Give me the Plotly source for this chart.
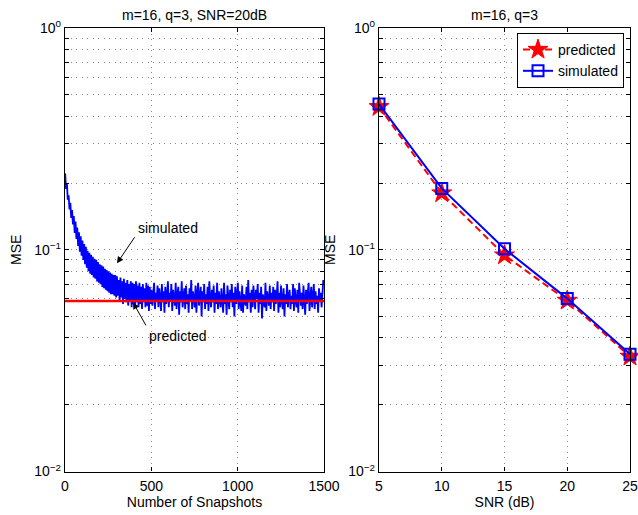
import math
import plotly.graph_objects as go

# ---------------- data ----------------
# Left panel: MSE vs number of snapshots (sampled every 5 snapshots), values in 1e-3
snap_step = 5
sim_milli = [
    221,188,200,168,176,152,163,139,151,130,142,119,134,112,126,104,120,98,115,94,
    110,90,106,86,103,83,99,80,97,78,95,77,93,75,91,74,90,72,88,71,
    86,70,85,68,84,67,82,66,81,65,80,64,79,63,78,63,77,62,77,61,
    76,62,73,59,75,61,72,57,74,60,71,58,73,56,70,59,72,55,71,57,
    70,56,72,58,69,55,71,57,68,54,70,58,67,55,71,56,69,53,68,57,
    66,56,63,71,54,64,59,69,55,67,61,53,70,58,65,52,68,57,62,72,
    55,64,59,70,53,66,61,56,71,54,63,68,51,65,58,72,55,62,67,54,
    69,57,63,52,67,59,73,54,65,60,55,69,52,63,71,56,61,68,50,65,
    58,70,54,63,57,68,53,72,60,55,66,58,69,52,64,57,71,54,65,60,
    55,67,59,52,71,57,63,51,69,60,54,66,58,70,55,64,50,68,57,62,
    71,54,65,58,53,69,52,63,60,56,68,54,73,58,64,52,66,55,69,59,
    54,66,60,70,52,64,57,68,49,63,59,55,71,53,65,60,56,69,54,64,
    58,68,53,66,57,62,72,52,64,55,69,59,54,67,50,63,57,70,55,62,
    66,54,62,57,70,53,67,59,55,66,52,71,60,56,64,54,69,58,51,66,
    57,64,71,53,62,68,55,60,70,54,65,57,62,52,67,59,64,55,69,73,
]
snapshots = [1 + i * snap_step for i in range(len(sim_milli))]
mse_sim_snap = [v / 1000 for v in sim_milli]
pred_snap_x = [0, 1500]
pred_snap_y = [0.0588, 0.0588]

# Right panel: MSE vs SNR
snr_db = [5, 10, 15, 20, 25]
mse_pred = [0.441, 0.180, 0.0945, 0.059, 0.033]
mse_simu = [0.454, 0.189, 0.101, 0.0602, 0.0338]

# tick labels
left_xticks = [0, 500, 1000, 1500]
right_xticks = [5, 10, 15, 20, 25]
decades = [0.01, 0.1, 1]
decade_labels = ["10<sup>−2</sup>", "10<sup>−1</sup>", "10<sup>0</sup>"]

# annotation anchors (data coordinates)
sim_arrow_tip = (301, 0.0869)
pred_arrow_tip = (394, 0.0579)
sim_label_pos = (597, 0.125)
pred_label_pos = (654, 0.0407)

# ---------------- styling ----------------
FONT = "Liberation Sans, Arial, Helvetica, sans-serif"
FS = 14
W, H = 638, 515

ytickvals = []
yticktext = []
for d in [0.01, 0.1]:
    for k in range(1, 10):
        ytickvals.append(d * k)
        yticktext.append(decade_labels[decades.index(d)] if k == 1 else "")
ytickvals.append(1)
yticktext.append(decade_labels[2])

fig = go.Figure()

fig.add_trace(go.Scatter(x=snapshots, y=mse_sim_snap, mode="lines",
                         line=dict(color="#0000ff", width=1.8), showlegend=False,
                         xaxis="x", yaxis="y"))
fig.add_trace(go.Scatter(x=pred_snap_x, y=pred_snap_y, mode="lines",
                         line=dict(color="#ff0000", width=2.5), showlegend=False,
                         xaxis="x", yaxis="y"))

fig.add_trace(go.Scatter(x=snr_db, y=mse_pred, mode="lines+markers", name="predicted",
                         line=dict(color="#ff0000", width=2, dash="7px,4px"),
                         marker=dict(symbol="star", size=15, color="#ff0000",
                                     line=dict(color="#ff0000", width=1)),
                         xaxis="x2", yaxis="y2", cliponaxis=False))
fig.add_trace(go.Scatter(x=snr_db, y=mse_simu, mode="lines+markers", name="simulated",
                         line=dict(color="#0000ff", width=2),
                         marker=dict(symbol="square-open", size=11, color="#0000ff",
                                     line=dict(color="#0000ff", width=2)),
                         xaxis="x2", yaxis="y2", cliponaxis=False))

ydom = [43.5 / H, 487 / H]
common_axis = dict(showline=True, linecolor="black", linewidth=1.3, mirror="ticks",
                   ticks="inside", ticklen=4, tickcolor="black", automargin=False,
                   showgrid=True, gridcolor="#888888", griddash="1px,4.5px", gridwidth=1,
                   zeroline=False, tickfont=dict(family=FONT, size=FS, color="black"))

yaxis_common = dict(common_axis, type="log", range=[-2, 0], tickvals=ytickvals,
                    ticktext=yticktext, domain=ydom)

fig.update_layout(
    width=W, height=H,
    margin=dict(l=0, r=0, t=0, b=0),
    paper_bgcolor="white", plot_bgcolor="white",
    font=dict(family=FONT, size=FS, color="black"),
    xaxis=dict(common_axis, domain=[65 / W, 324 / W], range=[0, 1500],
               tickvals=left_xticks, anchor="y", ticklabelstandoff=2,
               title=dict(text="Number of Snapshots", standoff=1,
                          font=dict(family=FONT, size=FS))),
    yaxis=dict(yaxis_common, anchor="x",
               title=dict(text="MSE", standoff=9, font=dict(family=FONT, size=FS))),
    xaxis2=dict(common_axis, domain=[379 / W, 630 / W], range=[5, 25],
                tickvals=right_xticks, anchor="y2", ticklabelstandoff=2,
                title=dict(text="SNR (dB)", standoff=1, font=dict(family=FONT, size=FS))),
    yaxis2=dict(yaxis_common, anchor="x2",
                title=dict(text="MSE", standoff=9, font=dict(family=FONT, size=FS))),
    legend=dict(x=624 / W, y=(H - 33) / H, xanchor="right", yanchor="top",
                bgcolor="white", bordercolor="black", borderwidth=1,
                font=dict(family=FONT, size=FS, color="black"),
                tracegroupgap=0, itemwidth=30),
    showlegend=True,
)

annotations = [
    dict(text="m=16, q=3, SNR=20dB", x=(65 + 324) / 2 / W, y=(H - 15) / H,
         xref="paper", yref="paper", xanchor="center", yanchor="middle",
         showarrow=False, font=dict(family=FONT, size=FS)),
    dict(text="m=16, q=3", x=(379 + 630) / 2 / W, y=(H - 15) / H,
         xref="paper", yref="paper", xanchor="center", yanchor="middle",
         showarrow=False, font=dict(family=FONT, size=FS)),
    # arrows (log axis: annotation y given as log10)
    dict(text=" ", x=sim_arrow_tip[0], y=math.log10(sim_arrow_tip[1]), xref="x", yref="y",
         showarrow=True, ax=19, ay=-28, arrowhead=2, arrowsize=1.3, arrowwidth=1,
         arrowcolor="black", font=dict(size=1)),
    dict(text=" ", x=pred_arrow_tip[0], y=math.log10(pred_arrow_tip[1]), xref="x", yref="y",
         showarrow=True, ax=14, ay=25, arrowhead=2, arrowsize=1.3, arrowwidth=1,
         arrowcolor="black", font=dict(size=1)),
    dict(text="simulated", x=sim_label_pos[0], y=math.log10(sim_label_pos[1]),
         xref="x", yref="y", showarrow=False, xanchor="center", yanchor="middle",
         font=dict(family=FONT, size=FS)),
    dict(text="predicted", x=pred_label_pos[0], y=math.log10(pred_label_pos[1]),
         xref="x", yref="y", showarrow=False, xanchor="center", yanchor="middle",
         font=dict(family=FONT, size=FS)),
]
fig.update_layout(annotations=annotations)

fig.write_html("out.html")
